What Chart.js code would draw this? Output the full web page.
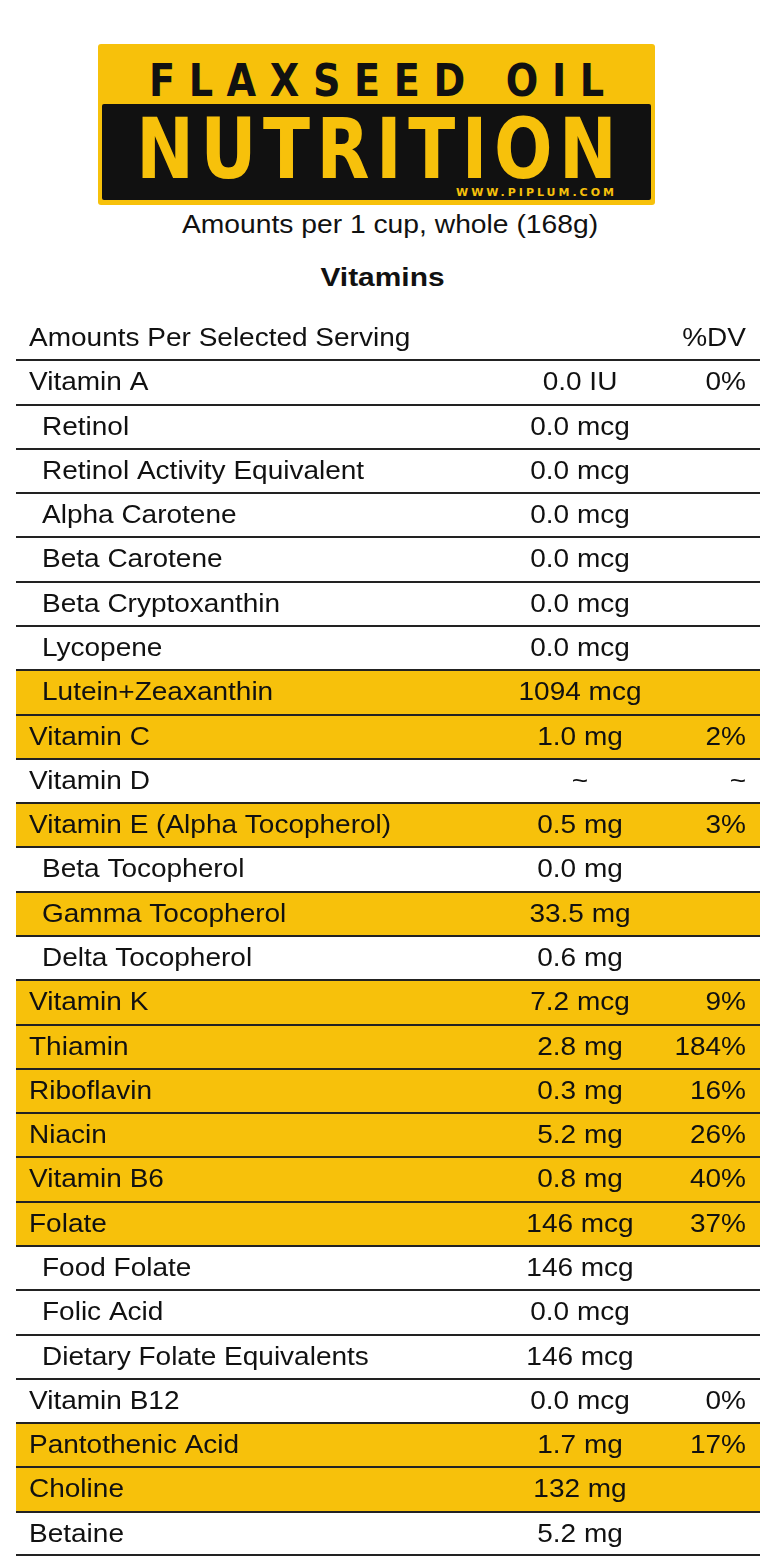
<!DOCTYPE html>
<html><head><meta charset="utf-8">
<script src="https://cdn.jsdelivr.net/npm/chart.js@4/dist/chart.umd.min.js"></script>
<style>
body{margin:0;width:768px;height:1566px;background:#fff;position:relative;font-family:"Liberation Sans",Arial,sans-serif;overflow:hidden}
#banner{position:absolute;left:98px;top:44px;width:557px;height:161px;background:#F7C10B;border-radius:3px}
#t1{position:absolute;left:-100px;width:757px;top:10px;text-align:center;font:bold 45px "DejaVu Sans",sans-serif;letter-spacing:16px;color:#111;padding-left:16px;box-sizing:border-box;transform:scaleX(0.85);white-space:nowrap}
#blk{position:absolute;left:4px;top:60px;width:549px;height:96px;background:#111;border-radius:2px}
#t2{position:absolute;left:-100px;width:749px;top:-4px;text-align:center;font:bold 84px "DejaVu Sans",sans-serif;letter-spacing:8px;padding-left:8px;box-sizing:border-box;color:#F7C10B;transform:scaleX(0.82);white-space:nowrap}
#t3{position:absolute;right:34px;top:82px;font:bold 11px "DejaVu Sans",sans-serif;letter-spacing:3px;color:#F7C10B}
#sub{position:absolute;top:210px;left:0;width:780px;text-align:center;font-size:25px;color:#111;transform:scaleX(1.13)}
#vit{position:absolute;top:262px;left:0;width:765px;text-align:center;font-weight:bold;font-size:26px;color:#111;transform:scaleX(1.15)}
#wrap{position:absolute;left:16px;top:316px;width:744px;height:1240px}
</style></head><body>
<div id="banner"><div id="t1">FLAXSEED OIL</div><div id="blk"><div id="t2">NUTRITION</div><div id="t3">WWW.PIPLUM.COM</div></div></div>
<div id="sub">Amounts per 1 cup, whole (168g)</div>
<div id="vit">Vitamins</div>
<div id="wrap"><canvas id="c"></canvas></div>
<script>
const names=["Amounts Per Selected Serving","Vitamin A","Retinol","Retinol Activity Equivalent","Alpha Carotene","Beta Carotene","Beta Cryptoxanthin","Lycopene","Lutein+Zeaxanthin","Vitamin C","Vitamin D","Vitamin E (Alpha Tocopherol)","Beta Tocopherol","Gamma Tocopherol","Delta Tocopherol","Vitamin K","Thiamin","Riboflavin","Niacin","Vitamin B6","Folate","Food Folate","Folic Acid","Dietary Folate Equivalents","Vitamin B12","Pantothenic Acid","Choline","Betaine"];
const indent=[0,0,1,1,1,1,1,1,1,0,0,0,1,1,1,0,0,0,0,0,0,1,1,1,0,0,0,0];
const amounts=["","0.0 IU","0.0 mcg","0.0 mcg","0.0 mcg","0.0 mcg","0.0 mcg","0.0 mcg","1094 mcg","1.0 mg","~","0.5 mg","0.0 mg","33.5 mg","0.6 mg","7.2 mcg","2.8 mg","0.3 mg","5.2 mg","0.8 mg","146 mcg","146 mcg","0.0 mcg","146 mcg","0.0 mcg","1.7 mg","132 mg","5.2 mg"];
const dv=["%DV","0%","","","","","","","","2%","~","3%","","","","9%","184%","16%","26%","40%","37%","","","","0%","17%","",""];
const highlight=[null,null,null,null,null,null,null,null,1,1,null,1,null,1,null,1,1,1,1,1,1,null,null,null,null,1,1,null];
const SX=1.12;
function txt(ctx,s,x,y,align){
 ctx.save();ctx.textAlign=align;ctx.translate(x,y);ctx.scale(SX,1);ctx.fillText(s,0,0);ctx.restore();
}
const tablePlugin={id:'tbl',afterDatasetsDraw(ch){
 const ctx=ch.ctx,y=ch.scales.y,step=ch.chartArea.height/names.length;
 ctx.save();ctx.fillStyle='#111';ctx.font='25px "Liberation Sans", Arial, sans-serif';ctx.textBaseline='middle';
 names.forEach((n,i)=>{const py=y.getPixelForValue(i)+1;
  txt(ctx,n,indent[i]?26:13,py,'left');
  txt(ctx,amounts[i],564,py,'center');
  txt(ctx,dv[i],730,py,'right');
  if(i>0){ctx.fillStyle='#222';ctx.fillRect(0,Math.round(y.getPixelForValue(i)-step/2)-1,744,2);ctx.fillStyle='#111';}
 });
 ctx.fillStyle='#222';ctx.fillRect(0,ch.chartArea.bottom-2,744,2);
 ctx.restore();}};
new Chart(document.getElementById('c'),{type:'bar',
 data:{labels:names,datasets:[{data:highlight,backgroundColor:'#F7C10B',borderWidth:0,barPercentage:1,categoryPercentage:1}]},
 options:{indexAxis:'y',responsive:true,maintainAspectRatio:false,animation:false,
  layout:{padding:0},plugins:{legend:{display:false},tooltip:{enabled:false}},
  scales:{x:{display:false,min:0,max:1},y:{display:false}}},
 plugins:[tablePlugin]});
</script></body></html>
